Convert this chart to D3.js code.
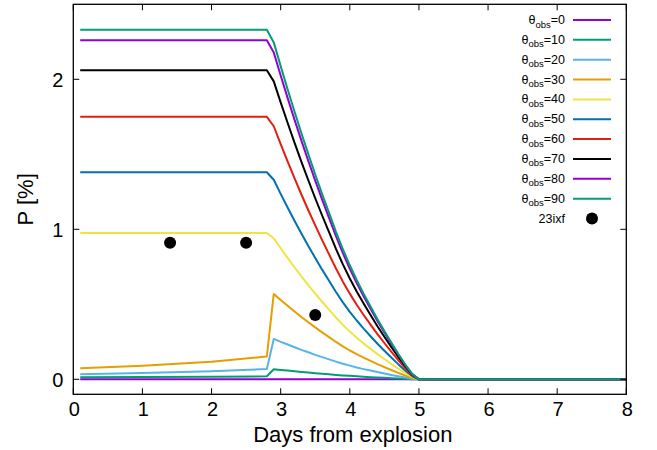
<!DOCTYPE html>
<html>
<head>
<meta charset="utf-8">
<script src="https://cdn.jsdelivr.net/npm/d3@7"></script>
<style>
  body { margin: 0; background: #fff; }
  svg { font-family: "Liberation Sans", Arial, sans-serif; }
</style>
</head>
<body>
<svg id="chart" width="657" height="450"></svg>
<script>
const width = 657;
const height = 450;
const margin = { top: 4.3, right: 30.7, bottom: 55.7, left: 73.3 };

// days since explosion (x grid shared by all model curves)
const days = [0.1, 1.0, 2.0, 2.8, 2.9, 3.0, 3.1, 3.2, 3.3, 3.4, 3.5, 3.6, 3.7, 3.8, 3.9,
  4.0, 4.1, 4.2, 4.3, 4.4, 4.5, 4.6, 4.7, 4.8, 4.9, 5.0, 8.0];

const thetas = [0, 10, 20, 30, 40, 50, 60, 70, 80, 90];

// polarisation P [%] per viewing angle
const p0 = [0, 0, 0, 0, 0, 0, 0, 0, 0, 0, 0, 0, 0, 0, 0, 0, 0, 0, 0, 0, 0, 0, 0, 0, 0, 0, 0];
const p10 = [0.013, 0.015, 0.017, 0.020, 0.067, 0.062, 0.058, 0.053, 0.049, 0.045, 0.041, 0.037, 0.033, 0.029, 0.026,
  0.023, 0.020, 0.017, 0.014, 0.012, 0.010, 0.007, 0.005, 0.003, 0.001, 0, 0];
const p20 = [0.033, 0.042, 0.054, 0.069, 0.269, 0.250, 0.232, 0.214, 0.196, 0.180, 0.163, 0.148, 0.133, 0.118, 0.104,
  0.091, 0.079, 0.068, 0.058, 0.048, 0.039, 0.029, 0.020, 0.012, 0.004, 0, 0];
const p30 = [0.073, 0.090, 0.117, 0.152, 0.569, 0.529, 0.490, 0.452, 0.415, 0.380, 0.346, 0.313, 0.281, 0.249, 0.219,
  0.192, 0.168, 0.145, 0.123, 0.101, 0.081, 0.062, 0.043, 0.025, 0.009, 0, 0];
const p40 = [0.975, 0.975, 0.975, 0.975, 0.940, 0.874, 0.809, 0.747, 0.686, 0.628, 0.571, 0.517, 0.464, 0.411, 0.363,
  0.318, 0.277, 0.239, 0.203, 0.168, 0.135, 0.102, 0.071, 0.042, 0.016, 0, 0];
const p50 = [1.38, 1.38, 1.38, 1.38, 1.330, 1.236, 1.145, 1.057, 0.972, 0.889, 0.809, 0.731, 0.657, 0.582, 0.513,
  0.450, 0.392, 0.338, 0.287, 0.237, 0.190, 0.145, 0.101, 0.059, 0.022, 0, 0];
const p60 = [1.75, 1.75, 1.75, 1.75, 1.687, 1.568, 1.453, 1.341, 1.232, 1.127, 1.026, 0.928, 0.833, 0.739, 0.651,
  0.571, 0.497, 0.429, 0.364, 0.301, 0.242, 0.184, 0.128, 0.075, 0.028, 0, 0];
const p70 = [2.06, 2.06, 2.06, 2.06, 1.986, 1.846, 1.710, 1.578, 1.450, 1.327, 1.207, 1.092, 0.981, 0.869, 0.766,
  0.672, 0.585, 0.505, 0.428, 0.354, 0.284, 0.216, 0.150, 0.089, 0.033, 0, 0];
const p80 = [2.26, 2.26, 2.26, 2.26, 2.179, 2.025, 1.876, 1.731, 1.591, 1.455, 1.324, 1.198, 1.076, 0.954, 0.841,
  0.737, 0.642, 0.554, 0.470, 0.389, 0.312, 0.237, 0.165, 0.097, 0.036, 0, 0];
const p90 = [2.33, 2.33, 2.33, 2.33, 2.246, 2.088, 1.934, 1.785, 1.640, 1.501, 1.365, 1.235, 1.109, 0.983, 0.867,
  0.760, 0.662, 0.571, 0.485, 0.401, 0.322, 0.245, 0.170, 0.100, 0.037, 0, 0];

const seriesValues = [p0, p10, p20, p30, p40, p50, p60, p70, p80, p90];

// observed points (23ixf)
const obsDays = [1.40, 2.50, 3.50];
const obsP = [0.911, 0.911, 0.429];

const xTicks = [0, 1, 2, 3, 4, 5, 6, 7, 8];
const yTicks = [0, 1, 2];

// gnuplot default line colours
const colors = ["#9400d3", "#009e73", "#56b4e9", "#e69f00", "#f0e442",
  "#0072b2", "#e51e10", "#000000", "#9400d3", "#009e73"];

const svg = d3.select("#chart");

const x = d3.scaleLinear().domain([0, 8]).range([margin.left, width - margin.right]);
const y = d3.scaleLinear().domain([-0.1, 2.5]).range([height - margin.bottom, margin.top]);

const line = d3.line()
  .x(d => x(d[0]))
  .y(d => y(d[1]));

// curves, drawn theta=0 first so theta=90 ends on top
seriesValues.forEach((vals, i) => {
  svg.append("path")
    .datum(days.map((d, j) => [d, vals[j]]))
    .attr("fill", "none")
    .attr("stroke", colors[i])
    .attr("stroke-width", 2)
    .attr("stroke-linejoin", "round")
    .attr("d", line);
});

svg.append("g")
  .selectAll("circle")
  .data(obsDays.map((d, i) => [d, obsP[i]]))
  .join("circle")
  .attr("cx", d => x(d[0]))
  .attr("cy", d => y(d[1]))
  .attr("r", 6)
  .attr("fill", "#000");

// axes: inward ticks mirrored on all four sides
const tickLen = 6;
const axes = svg.append("g").attr("stroke", "#000").attr("stroke-width", 1);
const [x0, x1] = x.range();
const [yb, yt] = y.range();

xTicks.forEach(t => {
  axes.append("line").attr("x1", x(t)).attr("x2", x(t)).attr("y1", yb).attr("y2", yb - tickLen);
  axes.append("line").attr("x1", x(t)).attr("x2", x(t)).attr("y1", yt).attr("y2", yt + tickLen);
});
yTicks.forEach(t => {
  axes.append("line").attr("x1", x0).attr("x2", x0 + tickLen).attr("y1", y(t)).attr("y2", y(t));
  axes.append("line").attr("x1", x1).attr("x2", x1 - tickLen).attr("y1", y(t)).attr("y2", y(t));
});

svg.append("rect")
  .attr("x", x0).attr("y", yt)
  .attr("width", x1 - x0).attr("height", yb - yt)
  .attr("fill", "none")
  .attr("stroke", "#000")
  .attr("stroke-width", 1.3);

svg.append("g")
  .selectAll("text")
  .data(xTicks)
  .join("text")
  .attr("x", d => x(d) + 1)
  .attr("y", yb + 21.5)
  .attr("text-anchor", "middle")
  .attr("font-size", 20)
  .text(d => d);

svg.append("g")
  .selectAll("text")
  .data(yTicks)
  .join("text")
  .attr("x", x0 - 10)
  .attr("y", d => y(d) + 8)
  .attr("text-anchor", "end")
  .attr("font-size", 20)
  .text(d => d);

svg.append("text")
  .attr("x", (x0 + x1) / 2 + 3)
  .attr("y", 442)
  .attr("text-anchor", "middle")
  .attr("font-size", 22)
  .text("Days from explosion");

svg.append("text")
  .attr("transform", `translate(33, ${(yb + yt) / 2}) rotate(-90)`)
  .attr("text-anchor", "middle")
  .attr("font-size", 22)
  .text("P [%]");

// legend
const legendX = 565;
const legendY = 20;
const rowH = 19.85;
const legend = svg.append("g");

thetas.forEach((t, i) => {
  const ry = legendY + i * rowH;
  const label = legend.append("text")
    .attr("x", legendX)
    .attr("y", ry + 4)
    .attr("text-anchor", "end")
    .attr("font-size", 12.5);
  label.append("tspan").text("θ");
  label.append("tspan").attr("font-size", 9.5).attr("dy", 3.5).text("obs");
  label.append("tspan").attr("dy", -3.5).text("=" + t);

  legend.append("line")
    .attr("x1", 573).attr("x2", 611)
    .attr("y1", ry).attr("y2", ry)
    .attr("stroke", colors[i])
    .attr("stroke-width", 2);
});

const obsRow = legendY + thetas.length * rowH;
legend.append("text")
  .attr("x", legendX)
  .attr("y", obsRow + 4.5)
  .attr("text-anchor", "end")
  .attr("font-size", 12.5)
  .text("23ixf");
legend.append("circle")
  .attr("cx", 592).attr("cy", obsRow)
  .attr("r", 6)
  .attr("fill", "#000");
</script>
</body>
</html>
